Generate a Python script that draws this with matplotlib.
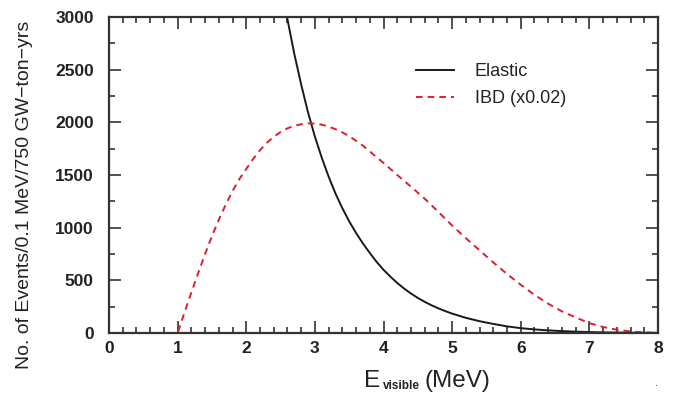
import matplotlib
matplotlib.use("Agg")
import matplotlib.pyplot as plt
from matplotlib.ticker import MultipleLocator

# Data
elastic_x = [2.5, 2.6, 2.7, 2.8, 2.9, 3.0, 3.1, 3.2, 3.3, 3.4, 3.5, 3.6, 3.7, 3.8,
             3.9, 4.0, 4.1, 4.2, 4.3, 4.4, 4.5, 4.6, 4.7, 4.8, 4.9, 5.0, 5.2, 5.4,
             5.6, 5.8, 6.0, 6.2, 6.4, 6.6, 6.8, 7.0, 7.2, 7.4, 7.6, 7.8, 8.0]
elastic_y = [3350, 2980, 2650, 2360, 2095, 1865, 1665, 1485, 1325, 1185, 1060, 950,
             850, 760, 675, 600, 535, 475, 422, 375, 333, 296, 263, 234, 208, 184,
             144, 112, 86, 63, 46, 34, 25, 18, 13, 9, 6, 4, 3, 2, 1.5]

ibd_x = [0, 1.0, 1.1, 1.2, 1.3, 1.4, 1.5, 1.6, 1.7, 1.8, 1.9, 2.0, 2.1, 2.2, 2.3,
         2.4, 2.5, 2.6, 2.7, 2.8, 2.9, 3.0, 3.1, 3.2, 3.3, 3.4, 3.5, 3.6, 3.7,
         3.8, 3.9, 4.0, 4.2, 4.4, 4.6, 4.8, 5.0, 5.2, 5.4, 5.6, 5.8, 6.0, 6.2,
         6.4, 6.6, 6.8, 7.0, 7.2, 7.4, 7.6, 7.8, 8.0]
ibd_y = [0, 0, 195, 385, 570, 750, 920, 1075, 1218, 1348, 1462, 1558, 1652, 1735,
         1806, 1862, 1908, 1943, 1967, 1982, 1990, 1988, 1978, 1960, 1935, 1905,
         1868, 1825, 1778, 1725, 1668, 1615, 1500, 1389, 1275, 1150, 1020, 900,
         785, 670, 560, 458, 362, 278, 205, 148, 93, 57, 31, 14, 6, 1]

labels = ["Elastic", "IBD (x0.02)"]

plt.rcParams['font.family'] = ['Liberation Sans', 'DejaVu Sans']

fig = plt.figure(figsize=(6.73, 4.03), dpi=100)
ax = fig.add_axes([109/673, 1-333/403, (658-109)/673, (333-17)/403])

ax.plot(elastic_x, elastic_y, color='#1a1a1a', lw=1.4, label=labels[0])
ax.plot(ibd_x, ibd_y, color='#d8202e', lw=1.4, ls=(0, (3.4, 2.6)), label=labels[1])

ax.set_xlim(0, 8)
ax.set_ylim(0, 3000)
ax.xaxis.set_major_locator(MultipleLocator(1))
ax.xaxis.set_minor_locator(MultipleLocator(0.2))
ax.yaxis.set_major_locator(MultipleLocator(500))
ax.yaxis.set_minor_locator(MultipleLocator(250))
ax.tick_params(which='both', direction='in', top=True, right=True, color='#333333', width=1.2)
ax.tick_params(which='major', length=8.5)
ax.tick_params(which='minor', length=4.5)
ax.tick_params(axis='y', which='major', pad=11, labelsize=12.5, labelcolor='#222222')
ax.tick_params(axis='x', which='major', pad=6, labelsize=12.5, labelcolor='#222222')
for lab in ax.get_xticklabels() + ax.get_yticklabels():
    lab.set_fontweight('bold')
for s in ax.spines.values():
    s.set_linewidth(1.6)
    s.set_color('#333333')

fig.text(25/673, 1-195/403, "No. of Events/0.1 MeV/750 GW\u2212ton\u2212yrs", fontsize=14,
         rotation=90, ha='center', va='center', color='#222222')

# x label: E_visible (MeV)
fig.text(364/673, 1-387/403, "E", fontsize=17.5, ha='left', va='baseline', color='#222222')
fig.text(383/673, 1-389/403, "visible", fontsize=8.5, fontweight='bold', ha='left',
         va='baseline', color='#222222')
fig.text(424/673, 1-387/403, "(MeV)", fontsize=17.5, ha='left', va='baseline', color='#222222')
fig.text(656/673, 1-386/403, ".", fontsize=8, ha='center', va='baseline', color='#333333')

leg = ax.legend(loc='upper left', bbox_to_anchor=(300/549, 1-39/316), frameon=False,
                fontsize=13, handlelength=2.1, handletextpad=1.15, labelspacing=0.55,
                borderaxespad=0)
for t in leg.get_texts():
    t.set_color('#222222')

fig.savefig("out.png", dpi=100)
